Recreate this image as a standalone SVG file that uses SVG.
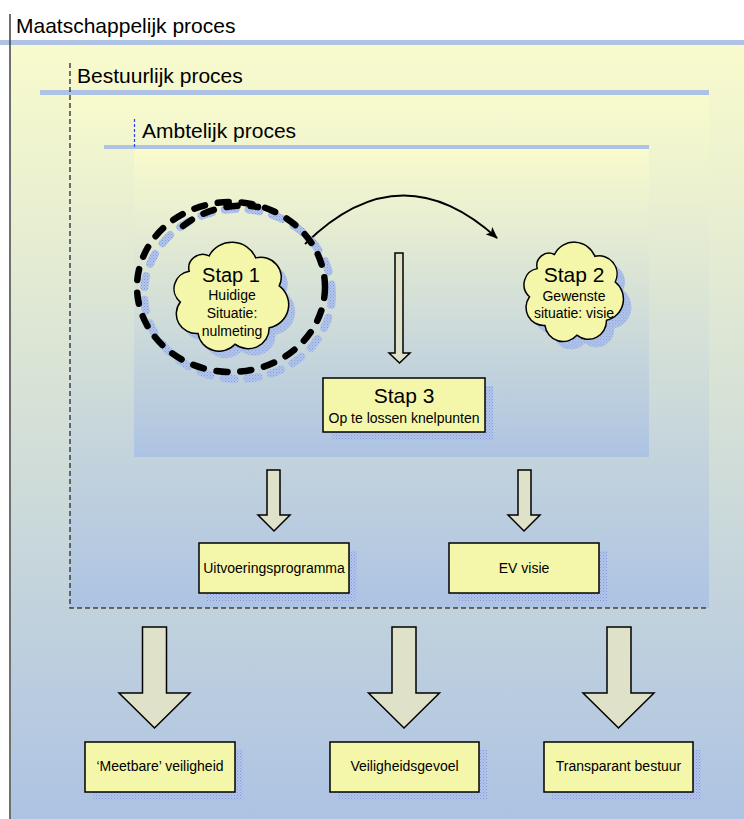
<svg xmlns="http://www.w3.org/2000/svg" xmlns:xlink="http://www.w3.org/1999/xlink" width="744" height="819" viewBox="0 0 744 819">
<defs>
<linearGradient id="bg" x1="0" y1="0" x2="0" y2="1">
<stop offset="0" stop-color="#f9fbcc"/>
<stop offset="1" stop-color="#adc3e3"/>
</linearGradient>
<pattern id="hatch" width="3" height="3" patternUnits="userSpaceOnUse">
<rect width="3" height="3" fill="#b3c5ea"/>
<rect width="1" height="1" fill="#7f9cd8"/>
<rect x="1.5" y="1.5" width="1" height="1" fill="#8ea8dc"/>
</pattern>
<marker id="ah" viewBox="0 0 12 10" refX="11" refY="5" markerWidth="12" markerHeight="10" markerUnits="userSpaceOnUse" orient="auto">
<path d="M0,0 L12,5 L0,10 L3,5 Z" fill="#000"/>
</marker>
<path id="cloud" vector-effect="non-scaling-stroke" d="M-17.8,-36.3 A21.3,21.3 0 0 1 21,-34.6 A17.2,17.2 0 0 1 40.6,-10.4 A20.4,20.4 0 0 1 32.2,25.7 A17.5,17.5 0 0 1 3.7,39.8 A17.6,17.6 0 0 1 -27,30.6 A17,17 0 0 1 -41.8,3.5 A15.2,15.2 0 0 1 -34.4,-23 A11.7,11.7 0 0 1 -17.8,-36.3 Z"/>
</defs>
<style>
text{font-family:"Liberation Sans",Arial,sans-serif;fill:#000}
.title{font-size:21px}
.big{font-size:21px;text-anchor:middle}
.sm{font-size:14px;text-anchor:middle}
.box{fill:#f4f7aa;stroke:#000;stroke-width:1.5}
.shadow{fill:url(#hatch);stroke:none}
.band{fill:#aec2e3}
.block{fill:#dfe2c8;stroke:#000;stroke-width:1.5;stroke-linejoin:miter}
.cloud{fill:#f4f7aa;stroke:#000;stroke-width:1.5}
</style>
<rect width="744" height="819" fill="#fff"/>
<!-- containers -->
<g id="maatschappelijk">
<rect x="11" y="44" width="733" height="775" fill="url(#bg)"/>
<rect class="band" x="0" y="40" width="744" height="5"/>
<line x1="10" y1="14" x2="10" y2="819" stroke="#404040" stroke-width="1.5"/>
<text class="title" x="16" y="33">Maatschappelijk proces</text>
</g>
<g id="bestuurlijk">
<rect x="70" y="94" width="639" height="514" fill="url(#bg)"/>
<rect class="band" x="40" y="90" width="669" height="5"/>
<path d="M70,63 V608 H709" fill="none" stroke="#404040" stroke-width="1.5" stroke-dasharray="5 3"/>
<text class="title" x="77" y="83">Bestuurlijk proces</text>
</g>
<g id="ambtelijk">
<rect x="134" y="149" width="515" height="308" fill="url(#bg)"/>
<rect class="band" x="104" y="145" width="545" height="4"/>
<line x1="134.5" y1="119" x2="134.5" y2="147" stroke="#2a3fe6" stroke-width="1.2" stroke-dasharray="3 2"/>
<text class="title" x="142" y="138">Ambtelijk proces</text>
</g>
<!-- connectors -->
<g id="connectors">
<path d="M305,244 Q400,150 497,238" fill="none" stroke="#000" stroke-width="1.8" marker-end="url(#ah)"/>
<polygon class="block" points="395,253 403,253 403,353 410,353 399.5,363 389,353 395,353"/>
<polygon class="block" points="267,470 280,470 280,515 290,515 274,531 258,515 267,515"/>
<polygon class="block" points="518,470 531,470 531,515 540,515 524,531 508,515 518,515"/>
<polygon class="block" points="142.5,627 166.5,627 166.5,693 190,693 154.5,728 119,693 142.5,693"/>
<polygon class="block" points="392,627 416,627 416,693 439.5,693 404,728 368.5,693 392,693"/>
<polygon class="block" points="607,627 631,627 631,693 654,693 618.5,728 583,693 607,693"/>
</g>
<!-- nodes -->
<g id="stap1">
<ellipse cx="238" cy="294" rx="94" ry="85" fill="none" stroke="url(#hatch)" stroke-width="8" stroke-dasharray="11 13" stroke-linecap="round"/>
<ellipse cx="231" cy="287" rx="94" ry="85" fill="none" stroke="#000" stroke-width="6.5" stroke-dasharray="11 13" stroke-linecap="round"/>
<path d="M183,226 A88,78 0 0 1 258,207" fill="none" stroke="#000" stroke-width="6.5" stroke-dasharray="11 13" stroke-linecap="round"/>
<use href="#cloud" class="shadow" transform="translate(237,305) scale(1.2,1.16)"/>
<use href="#cloud" class="cloud" transform="translate(230.5,298) scale(1.2,1.16)"/>
<text class="big" x="231" y="282" style="font-size:20px">Stap 1</text>
<text class="sm" x="232" y="300">Huidige</text>
<text class="sm" x="232" y="318">Situatie:</text>
<text class="sm" x="232" y="336">nulmeting</text>
</g>
<g id="stap2">
<use href="#cloud" class="shadow" transform="translate(581,301) scale(1.04,1.06)"/>
<use href="#cloud" class="cloud" transform="translate(573,293) scale(1.04,1.06)"/>
<text class="big" x="574" y="282">Stap 2</text>
<text class="sm" x="574" y="301">Gewenste</text>
<text class="sm" x="574" y="318">situatie: visie</text>
</g>
<g id="stap3">
<rect class="shadow" x="331" y="386" width="162" height="54"/>
<rect class="box" x="323" y="378" width="162" height="54"/>
<text class="big" x="404" y="403">Stap 3</text>
<text class="sm" x="404" y="423">Op te lossen knelpunten</text>
</g>
<g id="uitvoeringsprogramma">
<rect class="shadow" x="207" y="551" width="150" height="50"/>
<rect class="box" x="199" y="543" width="150" height="50"/>
<text class="sm" x="274" y="573">Uitvoeringsprogramma</text>
</g>
<g id="ev-visie">
<rect class="shadow" x="457" y="551" width="150" height="50"/>
<rect class="box" x="449" y="543" width="150" height="50"/>
<text class="sm" x="524" y="573">EV visie</text>
</g>
<g id="meetbare-veiligheid">
<rect class="shadow" x="93" y="750" width="150" height="50"/>
<rect class="box" x="85" y="742" width="150" height="50"/>
<text class="sm" x="160" y="771">‘Meetbare’ veiligheid</text>
</g>
<g id="veiligheidsgevoel">
<rect class="shadow" x="338" y="750" width="149" height="50"/>
<rect class="box" x="330" y="742" width="149" height="50"/>
<text class="sm" x="404.5" y="771">Veiligheidsgevoel</text>
</g>
<g id="transparant-bestuur">
<rect class="shadow" x="552" y="750" width="149" height="50"/>
<rect class="box" x="544" y="742" width="149" height="50"/>
<text class="sm" x="618.5" y="771">Transparant bestuur</text>
</g>
</svg>
